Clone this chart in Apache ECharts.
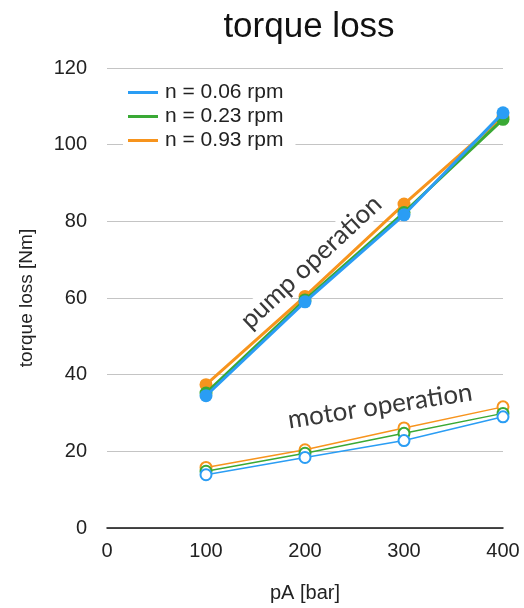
<!DOCTYPE html>
<html>
<head>
<meta charset="utf-8">
<script src="https://cdn.jsdelivr.net/npm/echarts@6/dist/echarts.min.js"></script>
<style>html,body{margin:0;padding:0;background:#fff}#c{width:524px;height:608px}</style>
</head>
<body>
<div id="c"></div>
<script>
var pressures = [100, 200, 300, 400];
var seriesNames = ['n = 0.06 rpm', 'n = 0.23 rpm', 'n = 0.93 rpm'];
var colors = ['#2a9df4', '#3aa935', '#f7941d'];
var pump006 = [34.5, 59.0, 81.7, 108.3];
var pump023 = [35.2, 59.5, 82.3, 106.6];
var pump093 = [37.4, 60.4, 84.5, 107.3];
var motor006 = [13.9, 18.4, 22.8, 29.0];
var motor023 = [14.8, 19.5, 24.7, 29.9];
var motor093 = [15.8, 20.4, 26.1, 31.6];
var yTicks = [0, 20, 40, 60, 80, 100, 120];
var xTicks = [0, 100, 200, 300, 400];

function pairs(v) { return pressures.map(function (p, i) { return [p, v[i]]; }); }

var font = '"Liberation Sans", Arial, Helvetica, sans-serif';
var pumpData = [pump093, pump023, pump006];
var motorData = [motor093, motor023, motor006];
var idx = [2, 1, 0];
var series = [];
idx.forEach(function (k, j) {
  series.push({
    name: seriesNames[k], type: 'line', data: pairs(pumpData[j]),
    symbol: 'circle', symbolSize: 13, showSymbol: true,
    lineStyle: { color: colors[k], width: 3 },
    itemStyle: { color: colors[k], borderWidth: 0 },
    z: 3 + j, animation: false
  });
});
idx.forEach(function (k, j) {
  series.push({
    name: seriesNames[k], type: 'line', data: pairs(motorData[j]),
    symbol: 'emptyCircle', symbolSize: 11,
    lineStyle: { color: colors[k], width: 1.5 },
    itemStyle: { color: colors[k], borderWidth: 2.5, borderColor: colors[k] },
    z: 3 + j, animation: false
  });
});

var chart = echarts.init(document.getElementById('c'), null, { renderer: 'canvas' });
chart.setOption({
  backgroundColor: '#fff',
  animation: false,
  title: {
    text: 'torque loss', left: 304, top: 5, textAlign: 'center',
    textStyle: { fontFamily: font, fontSize: 35, fontWeight: 'normal', color: '#111' }
  },
  grid: { left: 107, right: 21, top: 68, bottom: 78 },
  legend: {
    data: [seriesNames[0], seriesNames[1], seriesNames[2]],
    orient: 'vertical', left: 123, top: 78, itemGap: 3,
    icon: 'rect', itemWidth: 30, itemHeight: 3,
    backgroundColor: '#fff', padding: [4, 12, 4, 5],
    textStyle: { fontFamily: font, fontSize: 21, color: '#222', padding: [0, 0, 0, 2] },
    selectedMode: false
  },
  xAxis: {
    type: 'value', min: 0, max: 400, interval: 100,
    name: 'pA [bar]', nameLocation: 'middle', nameGap: 55,
    nameTextStyle: { fontFamily: font, fontSize: 20, color: '#222' },
    axisLine: { lineStyle: { color: '#111', width: 1.5 } },
    axisTick: { show: false },
    splitLine: { show: false },
    axisLabel: { fontFamily: font, fontSize: 20, color: '#222', margin: 13,
      formatter: function (v) { return xTicks.indexOf(v) >= 0 ? String(v) : ''; } }
  },
  yAxis: {
    type: 'value', min: 0, max: 120, interval: 20,
    name: 'torque loss [Nm]', nameLocation: 'middle', nameGap: 71, nameRotate: 90,
    nameTextStyle: { fontFamily: font, fontSize: 19, color: '#222' },
    axisLine: { show: false }, axisTick: { show: false },
    splitLine: { lineStyle: { color: '#c4c4c4', width: 1 } },
    axisLabel: { fontFamily: font, fontSize: 20, color: '#222', margin: 20,
      formatter: function (v) { return yTicks.indexOf(v) >= 0 ? String(v) : ''; } }
  },
  graphic: [
    {
      type: 'text', x: 311, y: 262, rotation: 43 * Math.PI / 180, z: 1,
      style: { text: 'pump operation', font: '26px Lato, "Open Sans", sans-serif',
        fill: '#383838', textAlign: 'center', textVerticalAlign: 'middle',
        backgroundColor: '#fff', padding: [0, 4] }
    },
    {
      type: 'text', x: 380, y: 406, rotation: 8.7 * Math.PI / 180, z: 1,
      style: { text: 'motor operation', font: '26px Lato, "Open Sans", sans-serif',
        fill: '#383838', textAlign: 'center', textVerticalAlign: 'middle',
        backgroundColor: '#fff', padding: [0, 4] }
    }
  ],
  series: series
});
</script>
</body>
</html>
